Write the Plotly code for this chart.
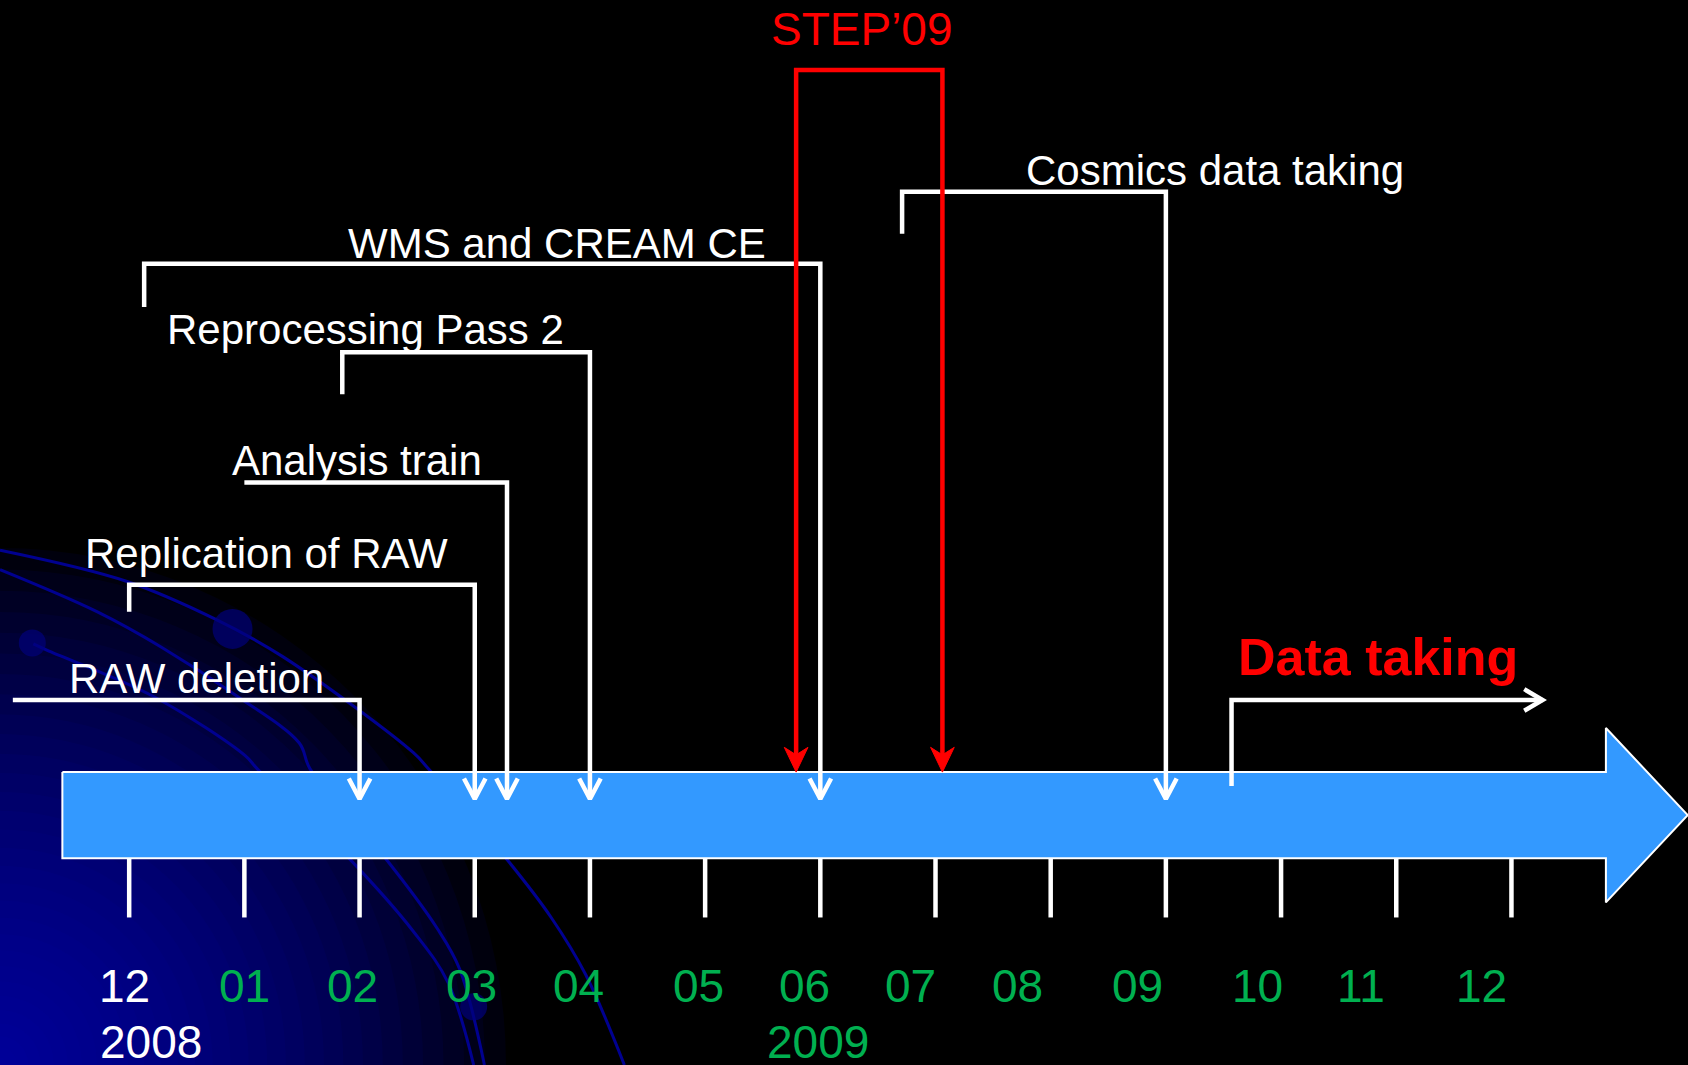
import plotly.graph_objects as go

# ---------------- data ----------------
# month index: 0 = Dec 2008, 1 = Jan 2009, ... 12 = Dec 2009
month_labels = ["12", "01", "02", "03", "04", "05", "06", "07", "08", "09", "10", "11", "12"]
month_index = [0, 1, 2, 3, 4, 5, 6, 7, 8, 9, 10, 11, 12]
month_label_colors = ["white"] + ["#00B050"] * 12
year_labels = ["2008", "2009"]
year_index = [0.19, 5.98]
year_colors = ["white", "#00B050"]

event_names = ["RAW deletion", "Replication of RAW", "Analysis train",
               "Reprocessing Pass 2", "WMS and CREAM CE", "Cosmics data taking"]
event_start = [-1.01, 0.0, 1.0, 1.85, 0.13, 6.71]
event_end = [2.0, 3.0, 3.28, 4.0, 6.0, 9.0]
event_has_start_tick = [False, True, False, True, True, True]

step_name = "STEP’09"
step_start = 5.79
step_end = 7.06

data_taking_name = "Data taking"
data_taking_start = 9.57
data_taking_end = 12.27

timeline_start = -0.58
timeline_body_end = 12.82
timeline_tip = 13.53

# ---------------- layout helpers (positions, not data) ----------------
X0, DX = 120.0, 107.0          # reference pixel of month 0 and pixels per month
W, H = 1568.0, 989.0           # reference canvas in layout units


def M(xd):
    return (xd - X0) / DX


def dm(px):
    return px / DX


bracket_y = [650, 543, 448, 327, 245, 178]
start_tick_len = [0, 25, 0, 39, 40, 39]
label_left = [62, 77, 214, 153, 321, 951]
label_y = [630, 514, 428, 306, 226, 158]
tick_label_shift = [-4, 0, -7, -3, -11, -6, -15, -23, -31, -26, -22, -33, -28]
ARROW_Y = 742
BAR_TOP, BAR_BOT, HEAD_TOP, HEAD_BOT = 717, 797, 676, 838

FONT = "Liberation Sans, Arial, sans-serif"

fig = go.Figure()


def line(xs, ys, color="white", width=4.5, shape="linear", fill=None, fillcolor=None):
    fig.add_trace(go.Scatter(x=xs, y=ys, mode="lines",
                             line=dict(color=color, width=width, shape=shape),
                             fill=fill, fillcolor=fillcolor,
                             hoverinfo="skip", showlegend=False))


# ---------------- background gradient ----------------
shapes = []
n = 30
for k in range(n, 0, -1):
    f = (k / n) ** 1.25
    rx, ry = 470 * f, 480 * f
    shapes.append(dict(type="circle", xref="x", yref="y", layer="below",
                       x0=M(0 - rx), x1=M(0 + rx), y0=H - ry, y1=H + ry,
                       fillcolor="rgba(0,0,175,0.075)", line=dict(width=0)))

# ---------------- decorative curves ----------------
curves = [
    [(0, 511), (118, 540), (200, 575), (263, 610), (384, 699), (398, 714),
     (470, 797), (512, 852), (544, 905), (580, 989)],
    [(0, 529), (90, 568), (150, 601), (221, 647), (278, 690), (288, 714),
     (358, 797), (406, 862), (427, 900), (450, 989)],
    [(31, 598), (44, 604), (143, 647), (228, 702), (239, 714),
     (326, 799), (384, 865), (416, 912), (440, 989)],
]
for c in curves:
    line([M(p[0]) for p in c], [p[1] for p in c], color="#000090", width=3, shape="spline")

fig.add_trace(go.Scatter(x=[M(30), M(216), M(440)], y=[597, 584, 935], mode="markers",
                         marker=dict(size=[27, 40, 27], color="#00007a",
                                     line=dict(width=0)),
                         hoverinfo="skip", showlegend=False))

# ---------------- timeline arrow ----------------
bx = [timeline_start, timeline_body_end, timeline_body_end, timeline_tip,
      timeline_body_end, timeline_body_end, timeline_start, timeline_start]
by = [BAR_TOP, BAR_TOP, HEAD_TOP, (BAR_TOP + BAR_BOT) / 2, HEAD_BOT, BAR_BOT, BAR_BOT, BAR_TOP]
line(bx, by, color="white", width=2, fill="toself", fillcolor="#3399FF")

# month ticks under the bar
tx, ty = [], []
for m in month_index:
    tx += [m, m, None]
    ty += [BAR_BOT, 852, None]
line(tx, ty, width=4.5)


# ---------------- event brackets ----------------
def chevron_down(m, color="white"):
    line([m - dm(10), m, m + dm(10)], [ARROW_Y - 19, ARROW_Y, ARROW_Y - 19], color=color, width=4.5)


for i, name in enumerate(event_names):
    yb = bracket_y[i]
    if event_has_start_tick[i]:
        xs = [event_start[i], event_start[i], event_end[i], event_end[i]]
        ys = [yb + start_tick_len[i], yb, yb, ARROW_Y - 2]
    else:
        xs = [event_start[i], event_end[i], event_end[i]]
        ys = [yb, yb, ARROW_Y - 2]
    line(xs, ys)
    chevron_down(event_end[i])

# ---------------- STEP'09 ----------------
line([step_start, step_start, step_end, step_end], [703, 65, 65, 703], color="#FF0000", width=4.5)
for m in (step_start, step_end):
    line([m - dm(11), m, m + dm(11), m, m - dm(11)], [694, BAR_TOP, 694, 701, 694],
         color="#FF0000", width=1, fill="toself", fillcolor="#FF0000")

# ---------------- Data taking ----------------
line([data_taking_start, data_taking_start, data_taking_end], [730, 650, 650])
line([data_taking_end - dm(17), data_taking_end, data_taking_end - dm(17)], [640, 650, 660], width=4.5)

# ---------------- texts ----------------
ann = []
for i, name in enumerate(event_names):
    ann.append(dict(x=M(label_left[i]), y=label_y[i], text=name, showarrow=False,
                    xanchor="left", yanchor="middle",
                    font=dict(family=FONT, size=42, color="white")))
ann.append(dict(x=(step_start + step_end) / 2 - dm(7), y=27, text=step_name, showarrow=False,
                xanchor="center", yanchor="middle",
                font=dict(family=FONT, size=46, color="#FF0000")))
ann.append(dict(x=M(1148), y=610, text="<b>" + data_taking_name + "</b>", showarrow=False,
                xanchor="left", yanchor="middle",
                font=dict(family=FONT, size=52, color="#FF0000")))
for m, lab, col, sh in zip(month_index, month_labels, month_label_colors, tick_label_shift):
    ann.append(dict(x=m + dm(sh), y=916, text=lab, showarrow=False,
                    xanchor="center", yanchor="middle",
                    font=dict(family=FONT, size=46, color=col)))
for m, lab, col in zip(year_index, year_labels, year_colors):
    ann.append(dict(x=m, y=968, text=lab, showarrow=False,
                    xanchor="center", yanchor="middle",
                    font=dict(family=FONT, size=46, color=col)))

fig.update_layout(
    width=1688, height=1065,
    margin=dict(l=0, r=0, t=0, b=0),
    paper_bgcolor="black", plot_bgcolor="black",
    xaxis=dict(range=[M(0), M(W)], visible=False, fixedrange=True),
    yaxis=dict(range=[H, 0], visible=False, fixedrange=True),
    shapes=shapes, annotations=ann, showlegend=False,
)

fig.write_html("out.html", config={"displayModeBar": False},
               post_script="document.body.style.margin='0';document.body.style.background='black';document.body.style.overflow='hidden';")
